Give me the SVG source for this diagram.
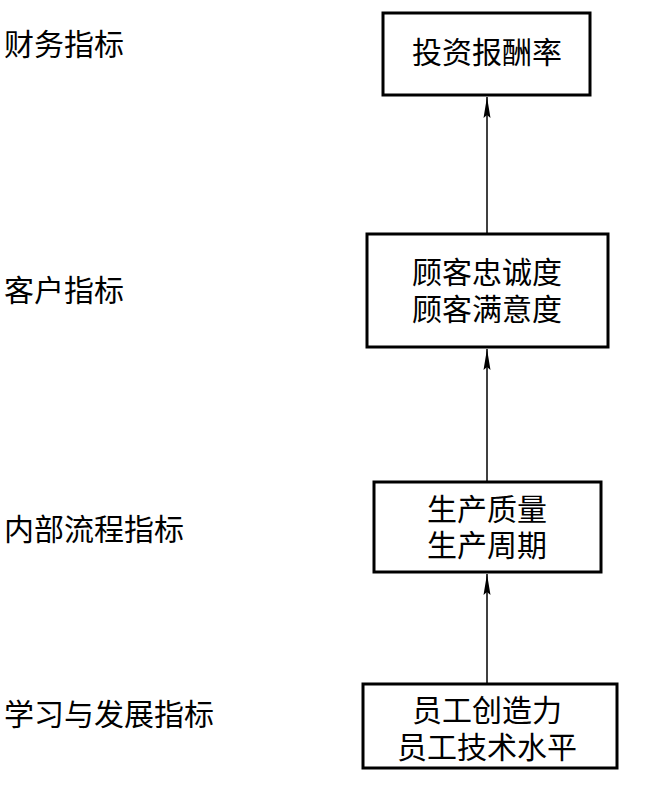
<svg xmlns="http://www.w3.org/2000/svg" width="647" height="788" viewBox="0 0 647 788">
<style>
text{font-family:"Noto Sans CJK SC","Noto Sans CJK JP",sans-serif;font-size:30px;fill:#000}
.c{text-anchor:middle}
.box{fill:#fff;stroke:#000;stroke-width:3}
.ln{stroke:#000;stroke-width:1.5;fill:none;marker-end:url(#ah)}
</style>
<defs>
<marker id="ah" markerUnits="userSpaceOnUse" markerWidth="22" markerHeight="10" refX="21" refY="4" orient="auto">
<path d="M0,0.5 L21,4 L0,7.5 L3,4 Z" fill="#000"/>
</marker>
</defs>
<g id="labels">
<text x="4" y="55">财务指标</text>
<text x="4" y="301">客户指标</text>
<text x="4" y="540">内部流程指标</text>
<text x="4" y="725">学习与发展指标</text>
</g>
<g id="connectors">
<line class="ln" x1="487" y1="234" x2="487" y2="97"/>
<line class="ln" x1="487" y1="482" x2="487" y2="349"/>
<line class="ln" x1="487" y1="684" x2="487" y2="574"/>
</g>
<g id="n1">
<rect class="box" x="383" y="13" width="207" height="82"/>
<text class="c" x="487" y="63">投资报酬率</text>
</g>
<g id="n2">
<rect class="box" x="367" y="234" width="241" height="113"/>
<text class="c" x="487" y="283">顾客忠诚度</text>
<text class="c" x="487" y="320">顾客满意度</text>
</g>
<g id="n3">
<rect class="box" x="374" y="482" width="227" height="90"/>
<text class="c" x="487" y="520">生产质量</text>
<text class="c" x="487" y="556">生产周期</text>
</g>
<g id="n4">
<rect class="box" x="363" y="684" width="254" height="84"/>
<text class="c" x="487" y="721">员工创造力</text>
<text class="c" x="487" y="758">员工技术水平</text>
</g>
</svg>
